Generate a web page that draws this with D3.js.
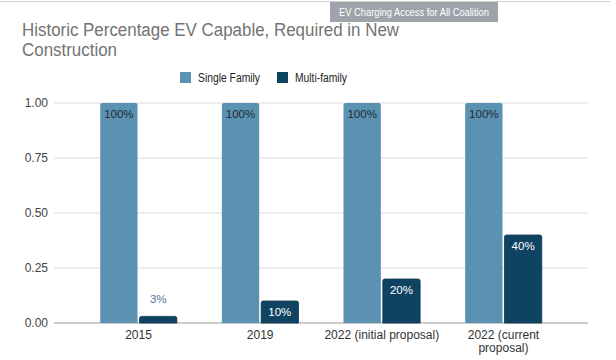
<!DOCTYPE html>
<html><head><meta charset="utf-8">
<script src="https://cdn.jsdelivr.net/npm/d3@7"></script>
<style>body{margin:0;background:#fff;}svg{display:block;font-family:Arial,"Liberation Sans",sans-serif;}</style>
</head><body><svg id="c" width="616" height="360"></svg>
<script>
const categories = ["2015", "2019", "2022 (initial proposal)", "2022 (current proposal)"];
const categoryLines = [["2015"], ["2019"], ["2022 (initial proposal)"], ["2022 (current", "proposal)"]];
const seriesNames = ["Single Family", "Multi-family"];
const singleFamily = [1.00, 1.00, 1.00, 1.00];
const multiFamily = [0.03, 0.10, 0.20, 0.40];
const yTicks = [0, 0.25, 0.5, 0.75, 1.0];
const colors = ["#5b92b1", "#0e4462"];

const svg = d3.select("#c");
// top border line
svg.append("line").attr("x1",0).attr("x2",610).attr("y1",1.5).attr("y2",1.5).attr("stroke","#d0d0d0").attr("stroke-width",1);
// badge
svg.append("rect").attr("x",330).attr("y",2).attr("width",168).attr("height",20).attr("fill","#9ea3ab");
svg.append("text").attr("x",339).attr("y",16).attr("fill","#fff").attr("font-size",11)
  .attr("textLength",150).attr("lengthAdjust","spacingAndGlyphs").text("EV Charging Access for All Coalition");
// title
svg.append("text").attr("x",22).attr("y",36).attr("fill","#737373").attr("font-size",18)
  .attr("textLength",377).attr("lengthAdjust","spacingAndGlyphs").text("Historic Percentage EV Capable, Required in New");
svg.append("text").attr("x",22).attr("y",56).attr("fill","#737373").attr("font-size",18)
  .attr("textLength",95).attr("lengthAdjust","spacingAndGlyphs").text("Construction");

// legend
const leg = [{x:180,label:seriesNames[0],c:colors[0],w:62},{x:277,label:seriesNames[1],c:colors[1],w:52}];
leg.forEach(d=>{
  svg.append("rect").attr("x",d.x).attr("y",72).attr("width",11).attr("height",11).attr("fill",d.c);
  svg.append("text").attr("x",d.x+18).attr("y",82).attr("font-size",12.5).attr("fill","#222")
    .attr("textLength",d.w).attr("lengthAdjust","spacingAndGlyphs").text(d.label);
});

const y = d3.scaleLinear().domain([0,1]).range([323,103]);
const x0 = d3.scaleBand().domain(categories).range([54,588]).paddingInner(0.37).paddingOuter(0.38);
const x1 = d3.scaleBand().domain([0,1]).range([0,x0.bandwidth()]).paddingInner(0.05);

// gridlines
const g = svg.append("g");
yTicks.forEach(t=>{
  g.append("line").attr("x1",54).attr("x2",588).attr("y1",y(t)).attr("y2",y(t))
    .attr("stroke", t===0 ? "#9a9a9a" : "#dcdcdc").attr("stroke-width",1);
});
const yAxis = d3.axisLeft(y).tickValues(yTicks).tickFormat(d3.format(".2f")).tickSize(0).tickPadding(6);
const ya = svg.append("g").attr("transform","translate(54,0)").call(yAxis);
ya.select(".domain").remove();
ya.selectAll("text").attr("font-size",12).attr("fill","#444").attr("font-family","Arial,'Liberation Sans',sans-serif");

// bars
const series = [singleFamily, multiFamily];
categories.forEach((cat,i)=>{
  series.forEach((vals,s)=>{
    const v = vals[i];
    const bx = x0(cat)+x1(s), bw = x1.bandwidth();
    const top = y(v), h = y(0)-y(v);
    svg.append("path").attr("d", roundedTop(bx,top,bw,h,2)).attr("fill",colors[s])
      .attr("stroke", s===1 ? "#0a3650" : "none").attr("stroke-width", s===1?0.8:0);
    const label = d3.format(".0%")(v);
    let ly, fill;
    if (s===0) { ly = top+15; fill = "#1f2a33"; }
    else if (h > 20) { ly = top+15; fill = "#ffffff"; }
    else { ly = top-13; fill = "#4b79a6"; }
    svg.append("text").attr("x",bx+bw/2).attr("y",ly).attr("text-anchor","middle")
      .attr("font-size",11.5).attr("fill",fill).text(label);
  });
  // x label
  categoryLines[i].forEach((ln,k)=>{
    svg.append("text").attr("x",x0(cat)+x0.bandwidth()/2).attr("y",339+k*13).attr("text-anchor","middle")
      .attr("font-size",12).attr("fill","#333").text(ln);
  });
});

function roundedTop(x,yTop,w,h,r){
  r = Math.min(r,h/2,w/2);
  return `M${x},${yTop+h}V${yTop+r}Q${x},${yTop} ${x+r},${yTop}H${x+w-r}Q${x+w},${yTop} ${x+w},${yTop+r}V${yTop+h}Z`;
}
</script></body></html>
